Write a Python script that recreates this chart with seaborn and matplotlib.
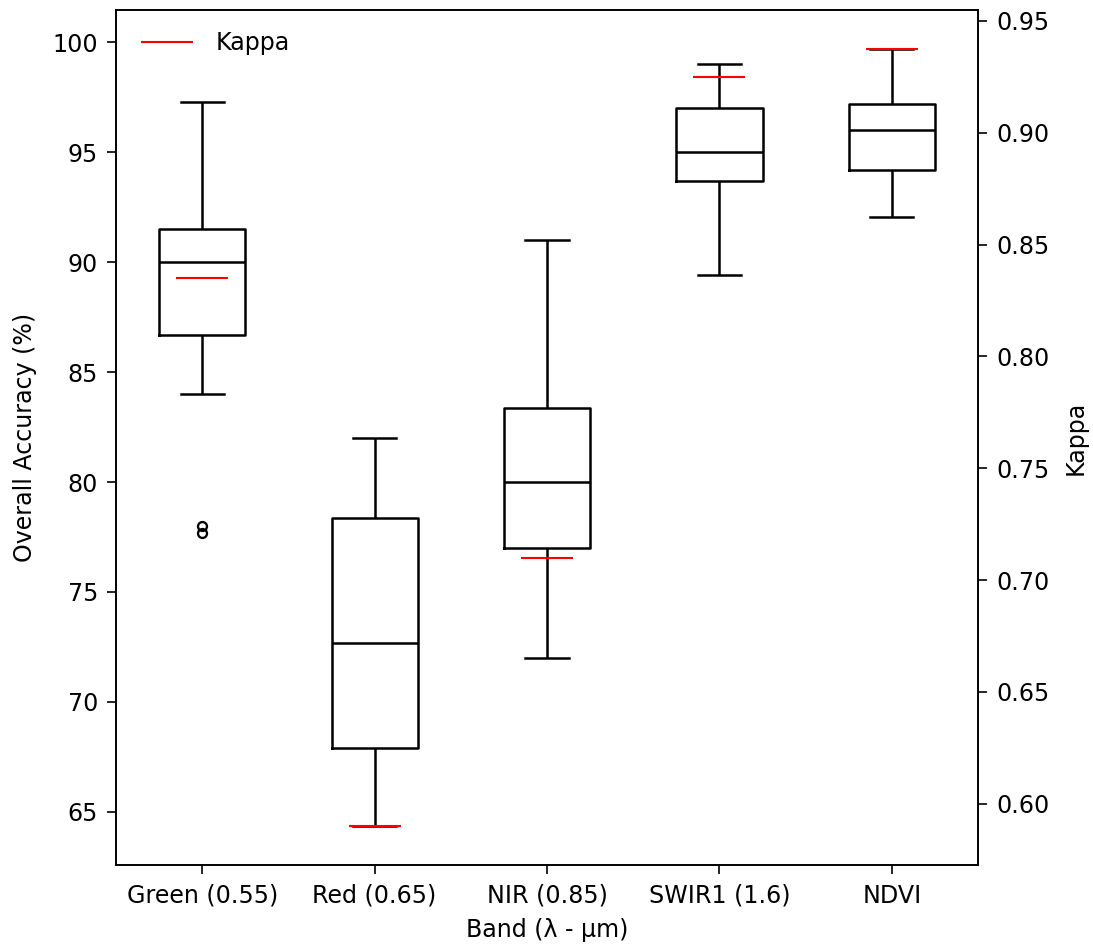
import numpy as np
import pandas as pd
import matplotlib
matplotlib.use("Agg")
import matplotlib.pyplot as plt
import seaborn as sns

# ---- data ----
bands = ["Green (0.55)", "Red (0.65)", "NIR (0.85)", "SWIR1 (1.6)", "NDVI"]
whisker_low = [84.0, 64.35, 72.0, 89.4, 92.05]
q1 = [86.7, 67.9, 77.0, 93.7, 94.2]
median = [90.0, 72.7, 80.0, 95.0, 96.0]
q3 = [91.5, 78.35, 83.35, 97.0, 97.2]
whisker_high = [97.3, 82.0, 91.0, 99.0, 99.7]
outliers = {"Green (0.55)": [78.0, 77.7]}
kappa = [0.835, 0.590, 0.710, 0.925, 0.9375]

# Build samples whose quartiles / whiskers reproduce the read box statistics
rows = []
for i, b in enumerate(bands):
    vals = list(np.repeat([whisker_low[i], q1[i], median[i], q3[i], whisker_high[i]], 8))
    vals += outliers.get(b, [])
    rows += [(b, v) for v in vals]
df = pd.DataFrame(rows, columns=["band", "oa"])

plt.rcParams["font.family"] = ["DejaVu Sans"]
plt.rcParams["font.size"] = 11.4
plt.rcParams["xtick.major.size"] = 4.3
plt.rcParams["ytick.major.size"] = 4.3
plt.rcParams["xtick.major.pad"] = 4.8
plt.rcParams["ytick.major.pad"] = 4.3

fig = plt.figure(figsize=(1093 / 150, 946 / 150), dpi=150)
ax = fig.add_axes([116 / 1093, 1 - 865 / 946, (978 - 116) / 1093, (865 - 10) / 946])

lw = 1.2
sns.boxplot(data=df, x="band", y="oa", order=bands, ax=ax, width=0.5,
            fill=False, color="black", linewidth=lw,
            flierprops=dict(marker="o", markersize=4.3, markeredgecolor="black",
                            markerfacecolor="none", markeredgewidth=1.1),
            medianprops=dict(color="black", linewidth=lw),
            whiskerprops=dict(color="black", linewidth=lw),
            capprops=dict(color="black", linewidth=lw),
            boxprops=dict(color="black", linewidth=lw))
ax.set_xlim(-0.5, len(bands) - 0.5)
ax.set_xlabel("Band (\u03bb - \u00b5m)", labelpad=5)
ax.set_ylabel("Overall Accuracy (%)", labelpad=7.5)

ax2 = ax.twinx()
ax2.plot(np.arange(len(bands)), kappa, linestyle="none", marker="_",
         markersize=25, markeredgewidth=1.0, color="red", label="Kappa")
ax2.set_ylabel("Kappa", labelpad=7)
ax2.set_xlim(-0.5, len(bands) - 0.5)
ax2.legend(loc="upper left", frameon=False, handlelength=2.5)

fig.savefig("out.png", dpi=150)
